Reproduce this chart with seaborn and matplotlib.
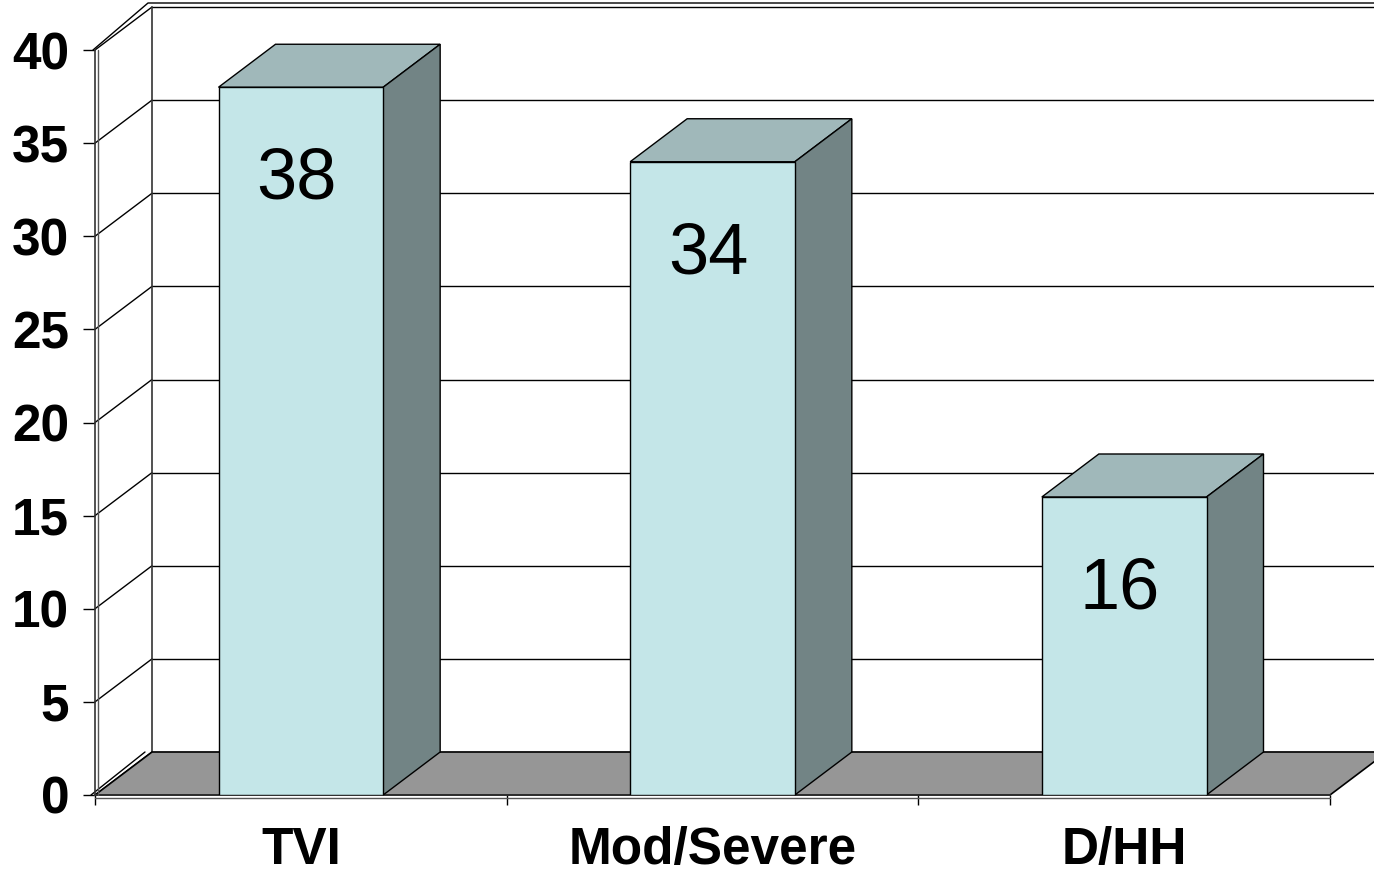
import matplotlib
matplotlib.use("Agg")
import matplotlib.pyplot as plt
from matplotlib.patches import Polygon
import seaborn as sns

categories = ["TVI", "Mod/Severe", "D/HH"]
values = [38, 34, 16]
y_ticks = [0, 5, 10, 15, 20, 25, 30, 35, 40]

front_col = "#c4e6e8"
top_col = "#a0b8ba"
side_col = "#728485"
floor_col = "#969696"

sns.set_style("white")
plt.rcParams["font.family"] = ["Liberation Sans", "DejaVu Sans"]

fig = plt.figure(figsize=(13.74, 8.74), dpi=100)
ax = fig.add_axes([95 / 1374, 79 / 874, 1235 / 1374, 745 / 874])

sns.barplot(x=categories, y=values, width=0.4, color=front_col, saturation=1,
            edgecolor="black", linewidth=1, ax=ax, zorder=4)
ax.set_xlim(-0.5, 2.5)
ax.set_ylim(0, 40)

# depth of the fake 3d box, in data units (about 57 px right, 43 px up)
dx = 57 / (1235 / 3)
dy = 43 / (745 / 40)
px_x = 1 / (1235 / 3)
px_y = 1 / (745 / 40)

# back wall + left wall lines
for v in y_ticks:
    ax.plot([-0.5 + dx, 3.2], [v + dy, v + dy], color="black", lw=1, clip_on=False, zorder=1)
    ax.plot([-0.5, -0.5 + dx], [v, v + dy], color="black", lw=1, clip_on=False, zorder=1)
ax.plot([-0.5 + dx, -0.5 + dx], [dy, 40 + dy], color="#333333", lw=1.2, clip_on=False, zorder=1)
ax.plot([-0.5 - 2 * px_x, -0.5 + dx - 4 * px_x, 3.2],
        [40, 40 + dy + 4 * px_y, 40 + dy + 4 * px_y],
        color="black", lw=1, clip_on=False, zorder=1)
ax.plot([-0.5 - 4 * px_x, -0.5 + dx - 7 * px_x], [0, dy],
        color="black", lw=1, clip_on=False, zorder=2)

# floor
floor = Polygon([(-0.5, 0), (2.5, 0), (2.5 + dx, dy), (-0.5 + dx, dy)],
                closed=True, facecolor=floor_col, edgecolor="black", lw=1.2,
                clip_on=False, zorder=2)
ax.add_patch(floor)

# top and side faces of the columns
for p in list(ax.patches):
    if p is floor:
        continue
    x0, w, h = p.get_x(), p.get_width(), p.get_height()
    top = Polygon([(x0, h), (x0 + w, h), (x0 + w + dx, h + dy), (x0 + dx, h + dy)],
                  closed=True, facecolor=top_col, edgecolor="black", lw=1, zorder=3.5,
                  clip_on=False)
    side = Polygon([(x0 + w, 0), (x0 + w, h), (x0 + w + dx, h + dy), (x0 + w + dx, dy)],
                   closed=True, facecolor=side_col, edgecolor="black", lw=1, zorder=3.5,
                   clip_on=False)
    ax.add_patch(top)
    ax.add_patch(side)
    ax.annotate(f"{h:.0f}", (x0 + w / 2, h), xytext=(-3, -67), textcoords="offset points",
                ha="center", va="center", fontsize=52, color="black", zorder=6)

# front axes
sns.despine(ax=ax, top=True, right=True)
for s in ["left", "bottom"]:
    ax.spines[s].set_color("#333333")
    ax.spines[s].set_linewidth(1.2)
ax.plot([-0.5 + 3 * px_x] * 2, [0, 40], color="#555555", lw=1, clip_on=False, zorder=5)
ax.plot([-0.5, 2.5], [-3 * px_y, -3 * px_y], color="#555555", lw=1, clip_on=False, zorder=5)

ax.set_yticks(y_ticks)
ax.set_xticks([-0.5, 0.5, 1.5, 2.5], minor=True)
ax.tick_params(axis="y", left=True, length=8.6, width=1, pad=10, labelsize=37,
               color="black", labelcolor="black")
ax.tick_params(axis="x", which="major", bottom=True, length=0, pad=22, labelsize=37,
               labelcolor="black")
ax.tick_params(axis="x", which="minor", bottom=True, length=7, width=1, color="black")
for lab in ax.get_xticklabels() + ax.get_yticklabels():
    lab.set_fontweight("bold")
ax.set_xlabel("")
ax.set_ylabel("")
ax.grid(False)

fig.savefig("out.png", dpi=100)
